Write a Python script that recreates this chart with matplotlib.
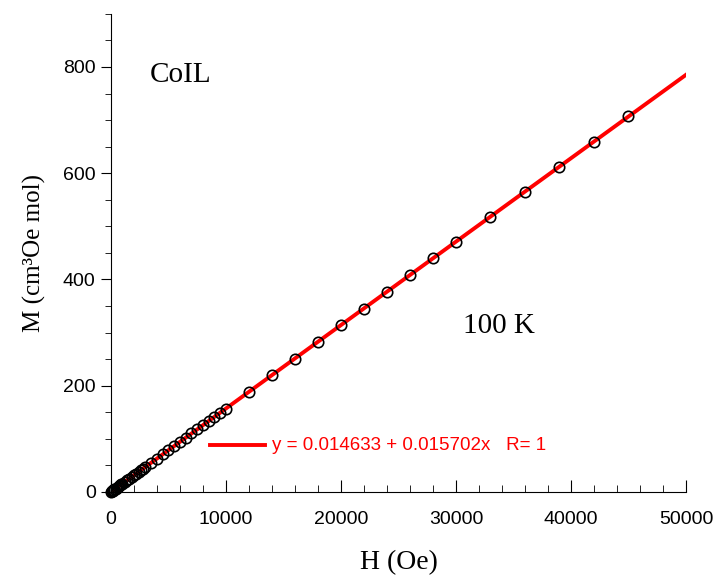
import numpy as np
import matplotlib.pyplot as plt
from matplotlib.ticker import MultipleLocator

# field (Oe) and magnetisation
H = [0, 50, 100, 150, 200, 300, 400, 500, 600, 700, 800, 900, 1000,
     1200, 1400, 1600, 1800, 2000, 2200, 2400, 2600, 2800, 3000,
     3500, 4000, 4500, 5000, 5500, 6000, 6500, 7000, 7500, 8000,
     8500, 9000, 9500, 10000, 12000, 14000, 16000, 18000, 20000,
     22000, 24000, 26000, 28000, 30000, 33000, 36000, 39000, 42000, 45000]
M = [0, 0.8, 1.6, 2.4, 3.1, 4.7, 6.3, 7.9, 9.4, 11.0, 12.6, 14.1, 15.7,
     18.8, 22.0, 25.1, 28.3, 31.4, 34.5, 37.7, 40.8, 44.0, 47.1,
     55.0, 62.8, 70.7, 78.5, 86.4, 94.2, 102, 110, 118, 126,
     133, 141, 149, 157, 188, 220, 251, 283, 314,
     345, 377, 408, 440, 471, 518, 565, 612, 659, 707]

# linear fit given on the chart
a, b = 0.014633, 0.015702
fit_x = [0, 50000]

serif = "Liberation Serif"
sans = "Liberation Sans"

fig = plt.figure(figsize=(7.16, 5.76), dpi=100)
ax = fig.add_axes([0.155, 0.146, 0.803, 0.830])

ax.plot(fit_x, [a + b * x for x in fit_x], color="red", lw=2.8, zorder=2)
ax.plot(H, M, "o", ms=7.5, mfc="none", mec="black", mew=1.2, zorder=3, clip_on=False)

ax.set_xlim(0, 50000)
ax.set_ylim(0, 900)
ax.spines["top"].set_visible(False)
ax.spines["right"].set_visible(False)

ax.xaxis.set_major_locator(MultipleLocator(10000))
ax.xaxis.set_minor_locator(MultipleLocator(2000))
ax.yaxis.set_major_locator(MultipleLocator(200))
ax.yaxis.set_minor_locator(MultipleLocator(50))
ax.tick_params(axis="x", which="major", direction="in", length=9, pad=14)
ax.tick_params(axis="x", which="minor", direction="in", length=5)
ax.tick_params(axis="y", which="major", direction="out", length=7, pad=4)
ax.tick_params(axis="y", which="minor", direction="out", length=4)
for lab in ax.get_xticklabels() + ax.get_yticklabels():
    lab.set_fontfamily(sans)
    lab.set_fontsize(14)

ax.set_xlabel("H (Oe)", fontfamily=serif, fontsize=20, labelpad=16)
ax.set_ylabel("M (cm³Oe mol)", fontfamily=serif, fontsize=18, labelpad=12)

ax.text(3400, 772, "CoIL", fontfamily=serif, fontsize=21)
ax.text(30600, 299, "100 K", fontfamily=serif, fontsize=21)

# legend-like key for the fit
ax.plot([8600, 13400], [88, 88], color="red", lw=2.8)
ax.text(14000, 88, "y = 0.014633 + 0.015702x   R= 1", color="red",
        fontfamily=sans, fontsize=13.5, va="center")

fig.savefig("out.png", dpi=100)
